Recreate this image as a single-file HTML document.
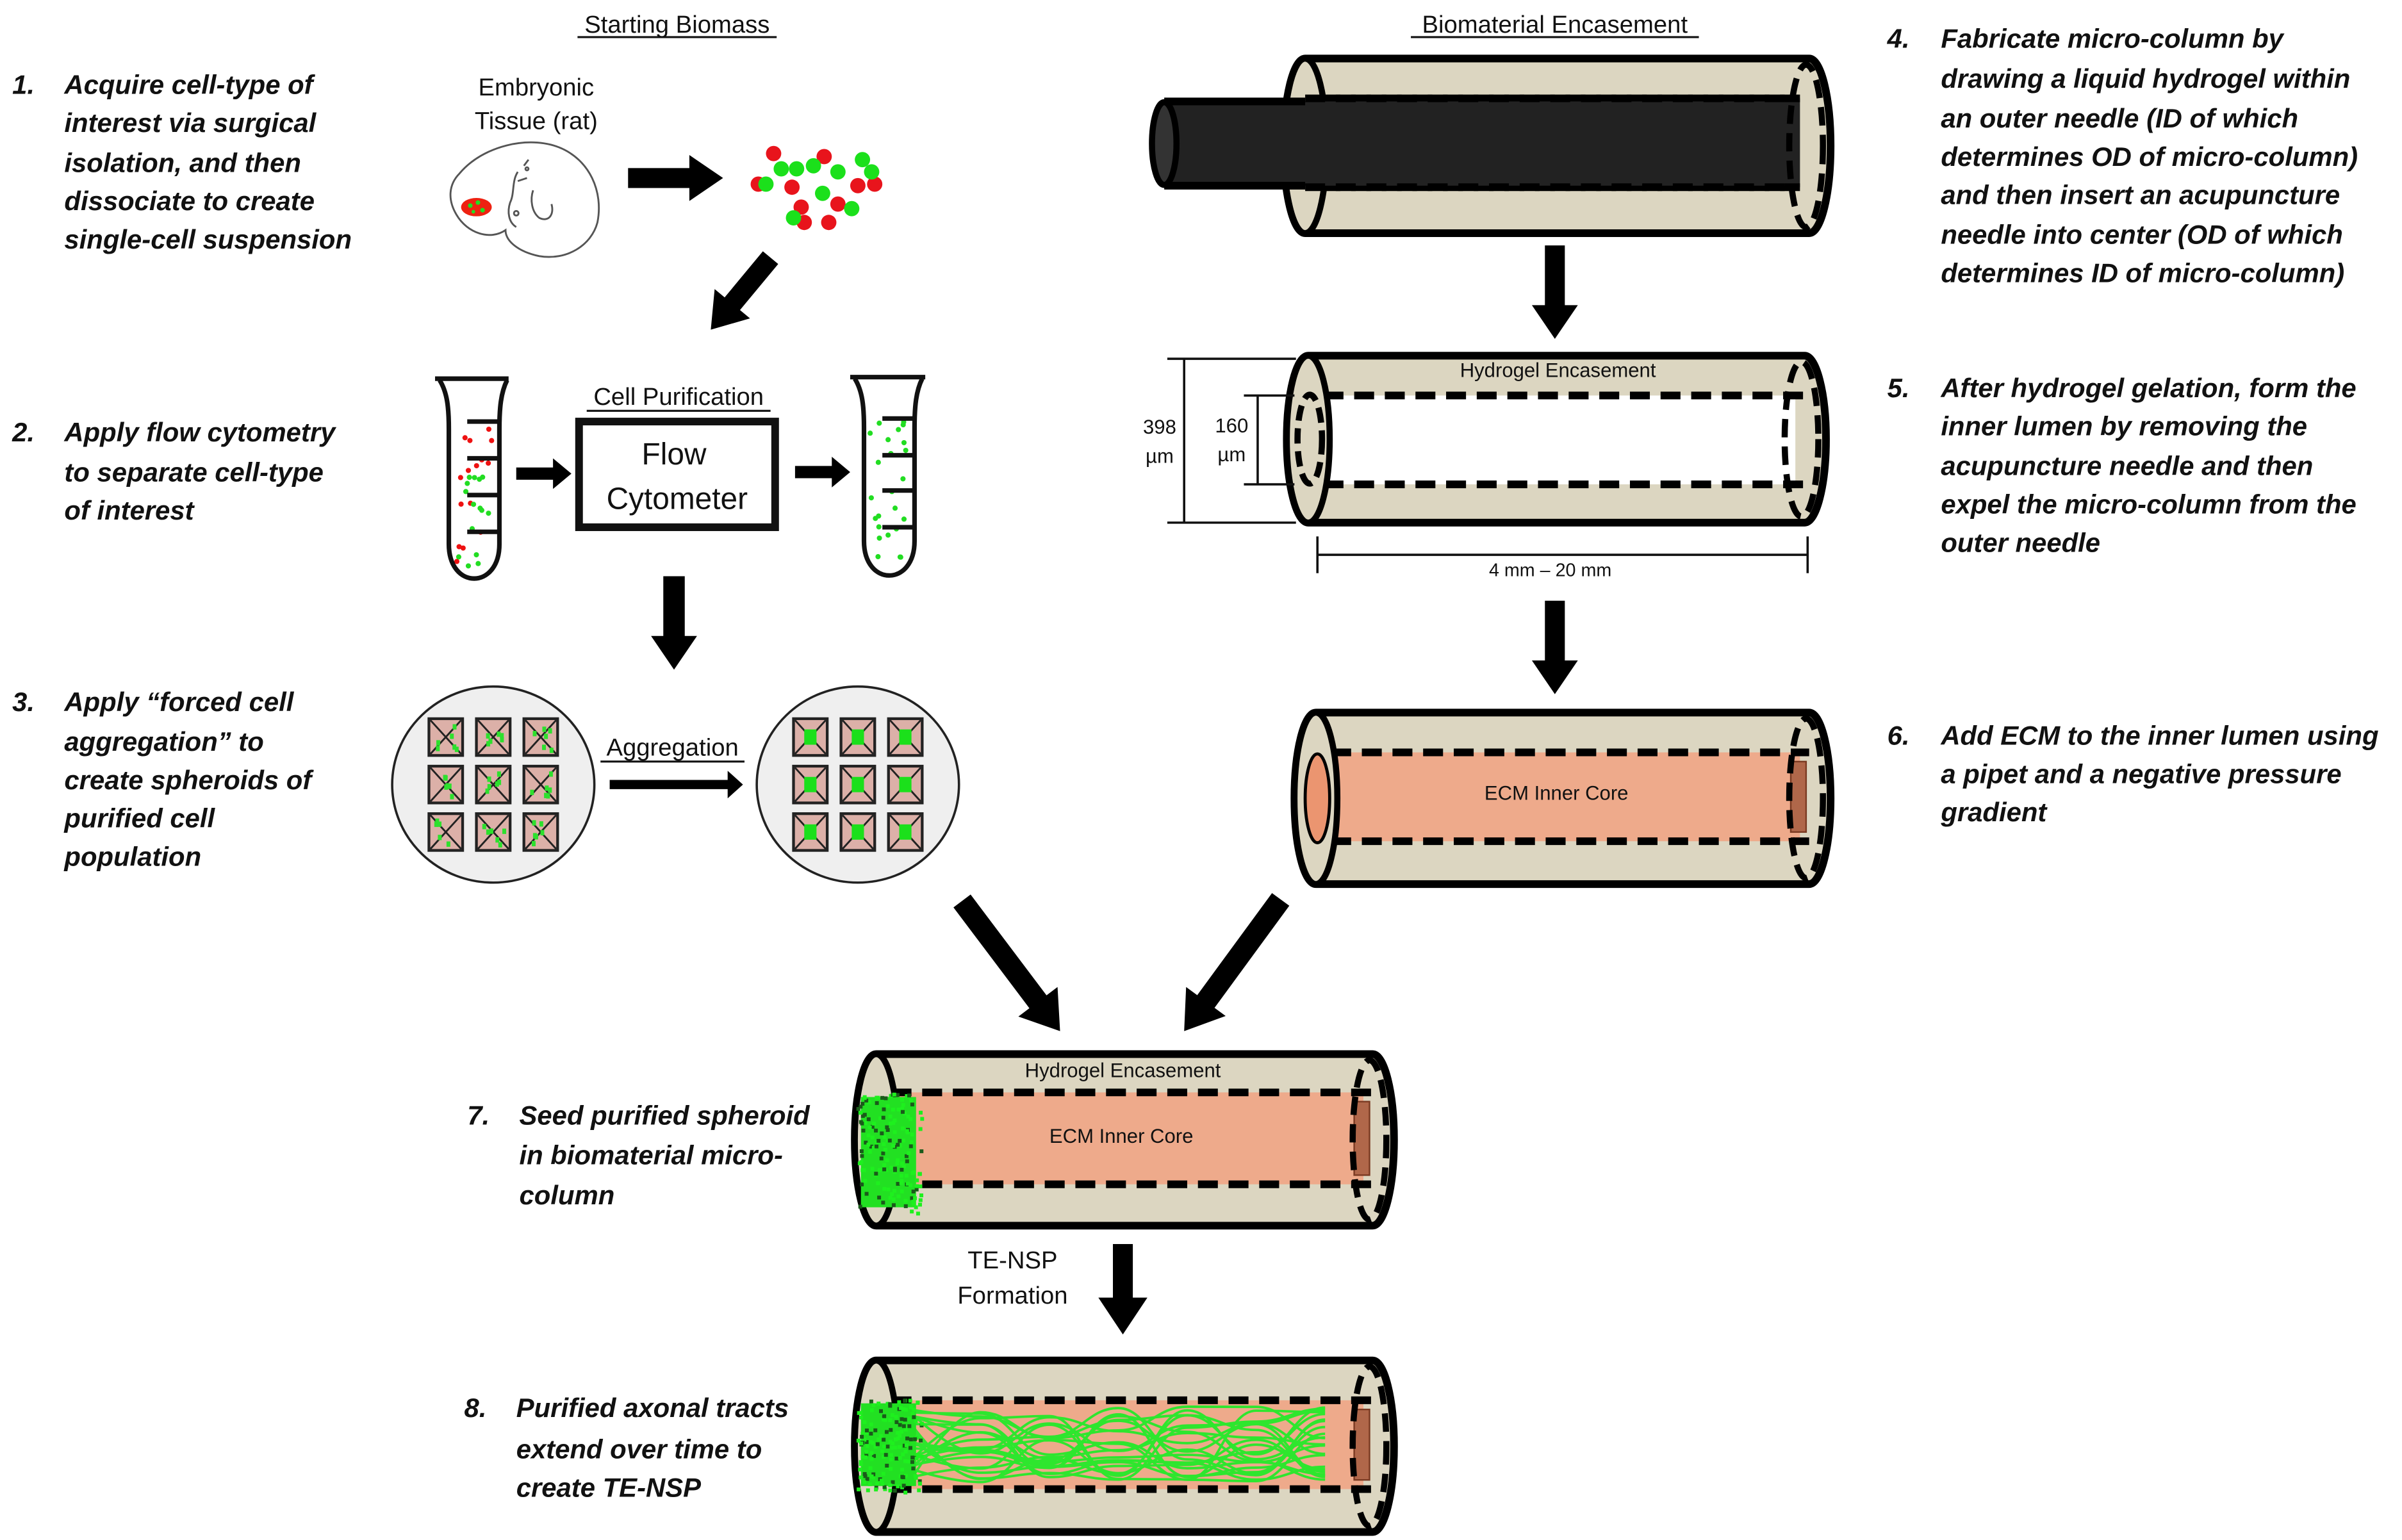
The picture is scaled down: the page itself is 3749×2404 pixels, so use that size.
<!DOCTYPE html>
<html><head><meta charset="utf-8"><style>
html,body{margin:0;padding:0;background:#fff;}
svg{display:block;}
text{font-family:"Liberation Sans",sans-serif;fill:#111;}
.st{font-weight:bold;font-style:italic;font-size:17.5px;}
</style></head><body>
<svg id="s" xmlns="http://www.w3.org/2000/svg" width="3749" height="2404" viewBox="0 0 1568 1005">
<rect width="1568" height="1005" fill="#fff"/>
<g id="g"></g>

<text x="442" y="21" font-size="16" text-anchor="middle">Starting Biomass</text>
<line x1="377" y1="24" x2="507" y2="24" stroke="#111" stroke-width="1.3"/>
<text x="1015" y="21" font-size="16" text-anchor="middle">Biomaterial Encasement</text>
<line x1="921" y1="24" x2="1109" y2="24" stroke="#111" stroke-width="1.3"/>

<g class="st">
<text class="st" x="8" y="61">1.</text>
<text class="st" x="42" y="61">Acquire cell-type of</text>
<text class="st" x="42" y="86">interest via surgical</text>
<text class="st" x="42" y="112">isolation, and then</text>
<text class="st" x="42" y="137">dissociate to create</text>
<text class="st" x="42" y="162">single-cell suspension</text>
<text class="st" x="8" y="288">2.</text>
<text class="st" x="42" y="288">Apply flow cytometry</text>
<text class="st" x="42" y="314">to separate cell-type</text>
<text class="st" x="42" y="339">of interest</text>
<text class="st" x="8" y="464">3.</text>
<text class="st" x="42" y="464">Apply “forced cell</text>
<text class="st" x="42" y="490">aggregation” to</text>
<text class="st" x="42" y="515">create spheroids of</text>
<text class="st" x="42" y="540">purified cell</text>
<text class="st" x="42" y="565">population</text>
<text class="st" x="305" y="734">7.</text>
<text class="st" x="339" y="734">Seed purified spheroid</text>
<text class="st" x="339" y="760">in biomaterial micro-</text>
<text class="st" x="339" y="786">column</text>
<text class="st" x="303" y="925">8.</text>
<text class="st" x="337" y="925">Purified axonal tracts</text>
<text class="st" x="337" y="952">extend over time to</text>
<text class="st" x="337" y="977">create TE-NSP</text>
<text class="st" x="1232" y="31">4.</text>
<text class="st" x="1267" y="31">Fabricate micro-column by</text>
<text class="st" x="1267" y="57">drawing a liquid hydrogel within</text>
<text class="st" x="1267" y="83">an outer needle (ID of which</text>
<text class="st" x="1267" y="108">determines OD of micro-column)</text>
<text class="st" x="1267" y="133">and then insert an acupuncture</text>
<text class="st" x="1267" y="159">needle into center (OD of which</text>
<text class="st" x="1267" y="184">determines ID of micro-column)</text>
<text class="st" x="1232" y="259">5.</text>
<text class="st" x="1267" y="259">After hydrogel gelation, form the</text>
<text class="st" x="1267" y="284">inner lumen by removing the</text>
<text class="st" x="1267" y="310">acupuncture needle and then</text>
<text class="st" x="1267" y="335">expel the micro-column from the</text>
<text class="st" x="1267" y="360">outer needle</text>
<text class="st" x="1232" y="486">6.</text>
<text class="st" x="1267" y="486">Add ECM to the inner lumen using</text>
<text class="st" x="1267" y="511">a pipet and a negative pressure</text>
<text class="st" x="1267" y="536">gradient</text>
</g>

<text x="350" y="62" font-size="16" text-anchor="middle">Embryonic</text>
<text x="350" y="84" font-size="16" text-anchor="middle">Tissue (rat)</text>
<g fill="none" stroke="#555" stroke-width="1.2">
<path d="M300,113 C315,95 345,88 365,96 C385,104 394,125 390,145 C386,160 370,170 352,167 C338,164 330,157 330,150 C320,157 305,152 298,140 C292,130 293,120 300,113 Z"/>
<path d="M348,124 C346,130 347,138 352,142 C358,145 362,140 360,133"/>
<path d="M338,112 C334,118 336,126 333,132 C331,138 332,145 337,148"/>
<path d="M342,108 L345,104 M338,118 L344,116"/>
<circle cx="344" cy="110" r="1"/><circle cx="337" cy="139" r="1.5"/>
</g>
<ellipse cx="311" cy="135" rx="10" ry="6" fill="#e21" />
<g fill="#2d2"><circle cx="307" cy="134" r="1.5"/><circle cx="312" cy="132" r="1.5"/><circle cx="315" cy="137" r="1.5"/><circle cx="309" cy="138" r="1.2"/></g>

<text x="443" y="264" font-size="16" text-anchor="middle">Cell Purification</text>
<line x1="383" y1="268" x2="503" y2="268" stroke="#111" stroke-width="1.3"/>
<rect x="378" y="275" width="128" height="69" fill="#fff" stroke="#111" stroke-width="5"/>
<text x="440" y="303" font-size="20" text-anchor="middle">Flow</text>
<text x="442" y="332" font-size="20" text-anchor="middle">Cytometer</text>

<g fill="none" stroke="#111" stroke-width="3">
<path d="M284,247 L332,247"/>
<path d="M287,248 C292,256 293,266 293,280 L293,355 C293,385 326,385 326,355 L326,280 C326,266 327,256 331,248"/>
<path d="M305,275 L326,275 M305,299 L326,299 M305,323 L326,323 M305,347 L326,347"/>
<path d="M555,246 L604,246"/>
<path d="M558,247 C563,255 564,265 564,279 L564,353 C564,383 597,383 597,353 L597,279 C597,265 598,255 602,247"/>
<path d="M576,273 L597,273 M576,297 L597,297 M576,320 L597,320 M576,344 L597,344"/>
</g>

<ellipse cx="322" cy="512" rx="66" ry="64" fill="#efefef" stroke="#222" stroke-width="1.5"/>
<ellipse cx="560" cy="512" rx="66" ry="64" fill="#efefef" stroke="#222" stroke-width="1.5"/>
<text x="439" y="493" font-size="16" text-anchor="middle">Aggregation</text>
<line x1="392" y1="497" x2="486" y2="497" stroke="#111" stroke-width="1.3"/>

<g stroke="#111" stroke-width="1.5" fill="none">
<path d="M762,234 L846,234 M762,341 L846,341 M773,234 L773,341"/>
<path d="M812,258 L845,258 M812,316 L845,316 M821,258 L821,316"/>
<path d="M860,362 L1180,362 M860,350 L860,374 M1180,350 L1180,374"/>
</g>
<text x="757" y="283" font-size="13" text-anchor="middle">398</text>
<text x="757" y="302" font-size="13" text-anchor="middle">µm</text>
<text x="804" y="282" font-size="13" text-anchor="middle">160</text>
<text x="804" y="301" font-size="13" text-anchor="middle">µm</text>
<text x="1012" y="376" font-size="12" text-anchor="middle">4 mm – 20 mm</text>

<text x="661" y="828" font-size="16" text-anchor="middle">TE-NSP</text>
<text x="661" y="851" font-size="16" text-anchor="middle">Formation</text>
<g id="top"></g>
</svg>
<script>
const NS="http://www.w3.org/2000/svg";
const G=document.getElementById('g'), T=document.getElementById('top');
function el(tag,attrs,parent){const e=document.createElementNS(NS,tag);for(const k in attrs)e.setAttribute(k,attrs[k]);(parent||G).appendChild(e);return e;}
function arrow(x1,y1,x2,y2,w,hw,hl){
 const dx=x2-x1,dy=y2-y1,L=Math.hypot(dx,dy),ux=dx/L,uy=dy/L,px=-uy,py=ux;
 const bx=x2-ux*hl,by=y2-uy*hl;
 const pts=[[x1+px*w/2,y1+py*w/2],[bx+px*w/2,by+py*w/2],[bx+px*hw/2,by+py*hw/2],[x2,y2],[bx-px*hw/2,by-py*hw/2],[bx-px*w/2,by-py*w/2],[x1-px*w/2,y1-py*w/2]];
 el('polygon',{points:pts.map(p=>p.join(',')).join(' '),fill:'#000'});
}
arrow(410,116,472,116,13,30,22);
arrow(503,168,464,215,13,30,22);
arrow(337,309,373,309,8,20,12);
arrow(519,308,555,308,8,20,12);
arrow(440,376,440,437,14,30,22);
arrow(398,512,485,512,6,18,10);
arrow(628,588,692,673,14,32,24);
arrow(836,587,773,673,14,32,24);
arrow(1015,160,1015,221,13,30,22);
arrow(1015,392,1015,453,13,30,22);
arrow(733,812,733,871,13,32,24);

const red=[[505,100],[538,102],[495,120],[517,122],[523,135],[560,121],[547,133],[571,120],[541,145],[525,145]];
const grn=[[510,110],[520,110],[531,108],[547,112],[563,104],[569,112],[518,142],[556,136],[537,126],[500,120]];
red.forEach(p=>el('circle',{cx:p[0],cy:p[1],r:5,fill:'#e8141c'}));
grn.forEach(p=>el('circle',{cx:p[0],cy:p[1],r:5,fill:'#1be01b'}));
let seed=7;function rnd(){seed=(seed*16807)%2147483647;return seed/2147483647;}
for(let i=0;i<30;i++){const y=280+rnd()*95,x=297+rnd()*(y>350?22:24);el('circle',{cx:x,cy:y,r:1.7,fill:rnd()<0.6?'#e11':'#2d2'});}
for(let i=0;i<24;i++){const y=275+rnd()*100,x=568+rnd()*(y>350?22:24);el('circle',{cx:x,cy:y,r:1.7,fill:'#2d2'});}
function well(cx,agg){
 const xs=[cx-31,cx,cx+31],ys=[481,512,543];
 ys.forEach(y=>xs.forEach(x=>{
  el('rect',{x:x-11,y:y-12,width:22,height:24,fill:'#dcb0a8',stroke:'#222',"stroke-width":1.8},T);
  el('path',{d:`M${x-10},${y-11}L${x+10},${y+11}M${x+10},${y-11}L${x-10},${y+11}`,stroke:'#222',"stroke-width":1.2},T);
  if(agg) el('rect',{x:x-4,y:y-5,width:8,height:10,fill:'#1be01b'},T);
  else for(let k=0;k<6;k++) el('rect',{x:x-8+rnd()*14,y:y-9+rnd()*16,width:2.5,height:3.5,fill:'#2de02d'},T);
 }));
}
well(322,false);well(560,true);

function tube(x1,x2,yt,yb,it,ib,core,opts){
 const rx=14,h=(yb-yt)/2,cy=(yt+yb)/2;
 el('path',{d:`M${x1+rx},${yt}L${x2-rx},${yt}A${rx},${h} 0 0 1 ${x2-rx},${yb}L${x1+rx},${yb}A${rx},${h} 0 0 1 ${x1+rx},${yt}Z`,fill:'#dcd6c1',stroke:'#000','stroke-width':5});
 el('rect',{x:x1+rx,y:it,width:x2-x1-2*rx-6,height:ib-it,fill:core});
 if(opts.right) el('rect',{x:x2-rx-12,y:it+6,width:10,height:ib-it-12,fill:opts.right,stroke:'#7a3a22','stroke-width':1});
 el('line',{x1:x1+rx+10,y1:it,x2:x2-rx,y2:it,stroke:'#000','stroke-width':5,'stroke-dasharray':'13,7'});
 el('line',{x1:x1+rx+10,y1:ib,x2:x2-rx,y2:ib,stroke:'#000','stroke-width':5,'stroke-dasharray':'13,7'});
 el('ellipse',{cx:x2-rx-2,cy:cy,rx:11,ry:h-4,fill:'none',stroke:'#000','stroke-width':4,'stroke-dasharray':'12,6'});
 el('ellipse',{cx:x1+rx,cy:cy,rx:rx,ry:h,fill:'#dcd6c1',stroke:'#000','stroke-width':4});
 if(opts.leftInner) el('ellipse',{cx:x1+rx+1,cy:cy,rx:8,ry:(ib-it)/2,fill:opts.leftInner,stroke:'#000','stroke-width':opts.leftDash?4:2,'stroke-dasharray':opts.leftDash?'10,5':'none'});
}
tube(838,1195,38,152,64,122,'#222',{});
el('rect',{x:760,y:66,width:405,height:55,fill:'#222'});
el('path',{d:'M760,66 L852,66 M760,121 L852,121',stroke:'#000','stroke-width':5});
el('ellipse',{cx:760,cy:93.5,rx:8,ry:27,fill:'#333',stroke:'#000','stroke-width':4});
el('line',{x1:852,y1:64,x2:1168,y2:64,stroke:'#000','stroke-width':5,'stroke-dasharray':'13,7'});
el('line',{x1:852,y1:122,x2:1168,y2:122,stroke:'#000','stroke-width':5,'stroke-dasharray':'13,7'});
tube(840,1192,232,341,258,316,'#fff',{leftInner:'#dcd6c1',leftDash:true});
el('text',{x:1017,y:246,'font-size':13,'text-anchor':'middle'}).textContent='Hydrogel Encasement';
tube(845,1195,465,577,491,549,'#eeaa8b',{leftInner:'#eb9570',right:'#b0674a'});
el('text',{x:1016,y:522,'font-size':13,'text-anchor':'middle'}).textContent='ECM Inner Core';
tube(558,910,688,800,713,773,'#eeaa8b',{right:'#b0674a'});
el('text',{x:733,y:703,'font-size':13,'text-anchor':'middle'}).textContent='Hydrogel Encasement';
el('text',{x:732,y:746,'font-size':13,'text-anchor':'middle'}).textContent='ECM Inner Core';
tube(558,910,888,1000,914,972,'#eeaa8b',{right:'#b0674a'});
for(let i=0;i<22;i++){
 let y0=920+rnd()*46;let d=`M595,${y0.toFixed(1)}`;
 for(let x=640;x<=880;x+=45){const y=918+rnd()*50;d+=` S${x-20},${y.toFixed(1)} ${x},${y.toFixed(1)}`;}
 el('path',{d:d,fill:'none',stroke:'#2ee62e','stroke-width':1.6});
}
function sph(x0,y0,x1,y1){
 el('rect',{x:x0,y:y0,width:x1-x0,height:y1-y0,fill:'#22e022'});
 for(let i=0;i<160;i++){el('rect',{x:x0-3+rnd()*(x1-x0+6),y:y0-3+rnd()*(y1-y0+6),width:2.5,height:2.5,fill:rnd()<0.4?'#1a5a1a':'#1ef01e'});}
}
sph(562,716,598,788);
sph(562,916,598,970);
</script>
</body></html>
